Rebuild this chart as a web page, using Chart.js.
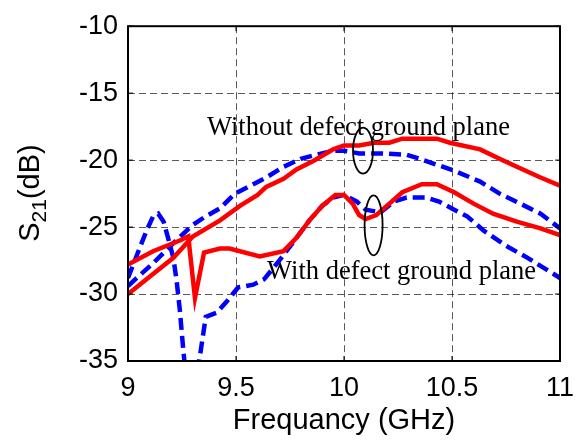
<!DOCTYPE html>
<html>
<head>
<meta charset="utf-8">
<script src="https://cdn.jsdelivr.net/npm/chart.js@4/dist/chart.umd.min.js"></script>
<style>
  html, body { margin: 0; padding: 0; background: #fff; }
  #wrap { width: 580px; height: 447px; }
</style>
</head>
<body>
<div id="wrap"><canvas id="chart"></canvas></div>
<script>
// x ticks / y ticks
var xTicks = [9, 9.5, 10, 10.5, 11];
var yTicks = [-35, -30, -25, -20, -15, -10];

// without defect ground plane, solid red
var redWithoutF = [9.0, 9.054, 9.116, 9.21, 9.30, 9.426, 9.52, 9.60, 9.64, 9.72, 9.78, 9.86, 9.95, 10.0, 10.07, 10.14, 10.21, 10.27, 10.43, 10.49, 10.63, 10.72, 10.80, 10.91, 11.0];
var redWithoutDb = [-30.0, -29.3, -28.5, -27.3, -25.7, -24.5, -23.4, -22.6, -22.0, -21.4, -20.7, -20.05, -19.2, -18.9, -18.9, -18.7, -18.7, -18.4, -18.4, -18.7, -19.2, -19.9, -20.5, -21.3, -21.9];

// with defect ground plane, solid red
var redWithF = [9.0, 9.116, 9.24, 9.279, 9.31, 9.352, 9.426, 9.47, 9.61, 9.72, 9.78, 9.84, 9.90, 9.96, 10.0, 10.04, 10.07, 10.10, 10.15, 10.21, 10.27, 10.36, 10.43, 10.51, 10.60, 10.69, 10.80, 10.91, 11.0];
var redWithDb = [-27.8, -26.8, -26.0, -25.7, -30.3, -26.9, -26.6, -26.6, -27.2, -26.8, -25.8, -24.5, -23.4, -22.6, -22.6, -23.25, -24.1, -24.4, -24.1, -23.25, -22.4, -21.8, -21.8, -22.4, -23.25, -24.0, -24.6, -25.1, -25.6];

// without defect ground plane, dashed blue
var blueWithoutF = [9.0, 9.054, 9.116, 9.21, 9.295, 9.35, 9.426, 9.495, 9.58, 9.64, 9.72, 9.80, 9.87, 9.95, 10.0, 10.07, 10.18, 10.29, 10.35, 10.44, 10.51, 10.63, 10.72, 10.81, 10.91, 11.0];
var blueWithoutDb = [-29.4, -28.6, -27.7, -26.2, -24.9, -24.3, -23.6, -22.5, -21.8, -21.3, -20.5, -19.9, -19.6, -19.3, -19.3, -19.5, -19.5, -19.6, -19.9, -20.4, -20.8, -21.6, -22.5, -23.2, -24.0, -25.1];

// with defect ground plane, dashed blue
var blueWithF = [9.0, 9.046, 9.085, 9.116, 9.14, 9.165, 9.187, 9.21, 9.225, 9.24, 9.255, 9.27, 9.30, 9.325, 9.36, 9.41, 9.46, 9.51, 9.58, 9.63, 9.71, 9.78, 9.84, 9.90, 9.95, 10.0, 10.06, 10.10, 10.17, 10.23, 10.29, 10.38, 10.44, 10.51, 10.57, 10.65, 10.75, 10.85, 10.94, 11.0];
var blueWithDb = [-28.8, -26.9, -25.3, -24.2, -24.0, -24.6, -25.9, -27.3, -29.0, -31.2, -34.0, -36.5, -37.0, -35.5, -31.7, -31.4, -30.5, -29.5, -29.3, -28.9, -27.3, -25.8, -24.5, -23.4, -22.8, -22.6, -23.1, -23.7, -23.9, -23.1, -22.8, -22.8, -23.1, -23.7, -24.2, -25.3, -26.4, -27.3, -28.2, -28.8];

function pts(f, v) {
  return f.map(function (x, i) { return { x: x, y: v[i] }; });
}

var sans = "'Liberation Sans', Arial, sans-serif";
var serif = "'Liberation Serif', 'Times New Roman', serif";

// notes and ellipses, placed in data units
var notes = [
  { text: "Without defect ground plane", x: 9.366, y: -18.11 },
  { text: "With defect ground plane", x: 9.644, y: -28.88 }
];
var rings = [
  { x: 10.088, y: -19.29, rx: 10, ry: 23 },
  { x: 10.137, y: -24.87, rx: 9, ry: 30 }
];

var extras = {
  id: "extras",
  afterDatasetsDraw: function (chart) {
    var ctx = chart.ctx, a = chart.chartArea;
    var xs = chart.scales.x, ys = chart.scales.y;
    ctx.save();
    // full box
    ctx.strokeStyle = "#000";
    ctx.lineWidth = 2;
    ctx.setLineDash([]);
    ctx.strokeRect(a.left, a.top, a.right - a.left, a.bottom - a.top);
    // small inner ticks
    ctx.lineWidth = 1;
    xTicks.forEach(function (t) {
      var px = xs.getPixelForValue(t);
      ctx.beginPath();
      ctx.moveTo(px, a.bottom); ctx.lineTo(px, a.bottom - 5);
      ctx.moveTo(px, a.top); ctx.lineTo(px, a.top + 5);
      ctx.stroke();
    });
    yTicks.forEach(function (t) {
      var py = ys.getPixelForValue(t);
      ctx.beginPath();
      ctx.moveTo(a.left, py); ctx.lineTo(a.left + 5, py);
      ctx.moveTo(a.right, py); ctx.lineTo(a.right - 5, py);
      ctx.stroke();
    });
    // text notes
    ctx.fillStyle = "#000";
    ctx.font = "26.5px " + serif;
    ctx.textBaseline = "alphabetic";
    ctx.textAlign = "left";
    notes.forEach(function (n) {
      ctx.fillText(n.text, xs.getPixelForValue(n.x), ys.getPixelForValue(n.y));
    });
    ctx.lineWidth = 1.8;
    rings.forEach(function (r) {
      ctx.beginPath();
      ctx.ellipse(xs.getPixelForValue(r.x), ys.getPixelForValue(r.y), r.rx, r.ry, 0, 0, Math.PI * 2);
      ctx.stroke();
    });
    ctx.restore();
  },
  afterDraw: function (chart) {
    // y title with subscript
    var ctx = chart.ctx;
    ctx.save();
    ctx.translate(31, 193);
    ctx.rotate(-Math.PI / 2);
    ctx.fillStyle = "#000";
    ctx.textBaseline = "middle";
    ctx.textAlign = "left";
    var big = "29px " + sans, small = "21px " + sans;
    ctx.font = big; var w1 = ctx.measureText("S").width; var w3 = ctx.measureText("(dB)").width;
    ctx.font = small; var w2 = ctx.measureText("21").width;
    var x0 = -(w1 + w2 + w3) / 2;
    ctx.font = big; ctx.fillText("S", x0, 0);
    ctx.font = small; ctx.fillText("21", x0 + w1, 9);
    ctx.font = big; ctx.fillText("(dB)", x0 + w1 + w2, 0);
    ctx.restore();
  }
};

new Chart(document.getElementById("chart"), {
  type: "line",
  data: {
    datasets: [
      { data: pts(redWithoutF, redWithoutDb), borderColor: "#ff0000", borderWidth: 4.5 },
      { data: pts(redWithF, redWithDb), borderColor: "#ff0000", borderWidth: 4.5 },
      { data: pts(blueWithoutF, blueWithoutDb), borderColor: "#0000ff", borderWidth: 4.5, borderDash: [12, 6] },
      { data: pts(blueWithF, blueWithDb), borderColor: "#0000ff", borderWidth: 4.5, borderDash: [12, 6] }
    ]
  },
  options: {
    responsive: true,
    maintainAspectRatio: false,
    animation: false,
    events: [],
    layout: { padding: { top: 22, right: 0, left: 0, bottom: 0 } },
    elements: { point: { radius: 0 }, line: { tension: 0, fill: false } },
    plugins: { legend: { display: false }, tooltip: { enabled: false } },
    scales: {
      x: {
        type: "linear",
        min: 9, max: 11,
        afterBuildTicks: function (s) { s.ticks = xTicks.map(function (v) { return { value: v }; }); },
        afterFit: function (s) { s.height = 86; s.paddingRight = 20; s.paddingLeft = 0; },
        grid: { color: "rgba(0,0,0,0.65)", lineWidth: 1, drawTicks: false },
        border: { display: false, dash: [7, 4] },
        ticks: { color: "#000", font: { family: sans, size: 27 }, padding: 11, maxRotation: 0,
                 callback: function (v) { return String(v); } },
        title: { display: true, text: "Frequancy (GHz)", color: "#000", font: { family: sans, size: 29 }, padding: { top: 0, bottom: 9 } }
      },
      y: {
        min: -35, max: -10,
        afterBuildTicks: function (s) { s.ticks = yTicks.map(function (v) { return { value: v }; }); },
        afterFit: function (s) { s.width = 128; },
        grid: { color: "rgba(0,0,0,0.65)", lineWidth: 1, drawTicks: false },
        border: { display: false, dash: [7, 4] },
        ticks: { color: "#000", font: { family: sans, size: 27 }, padding: 10 }
      }
    }
  },
  plugins: [extras]
});
</script>
</body>
</html>
